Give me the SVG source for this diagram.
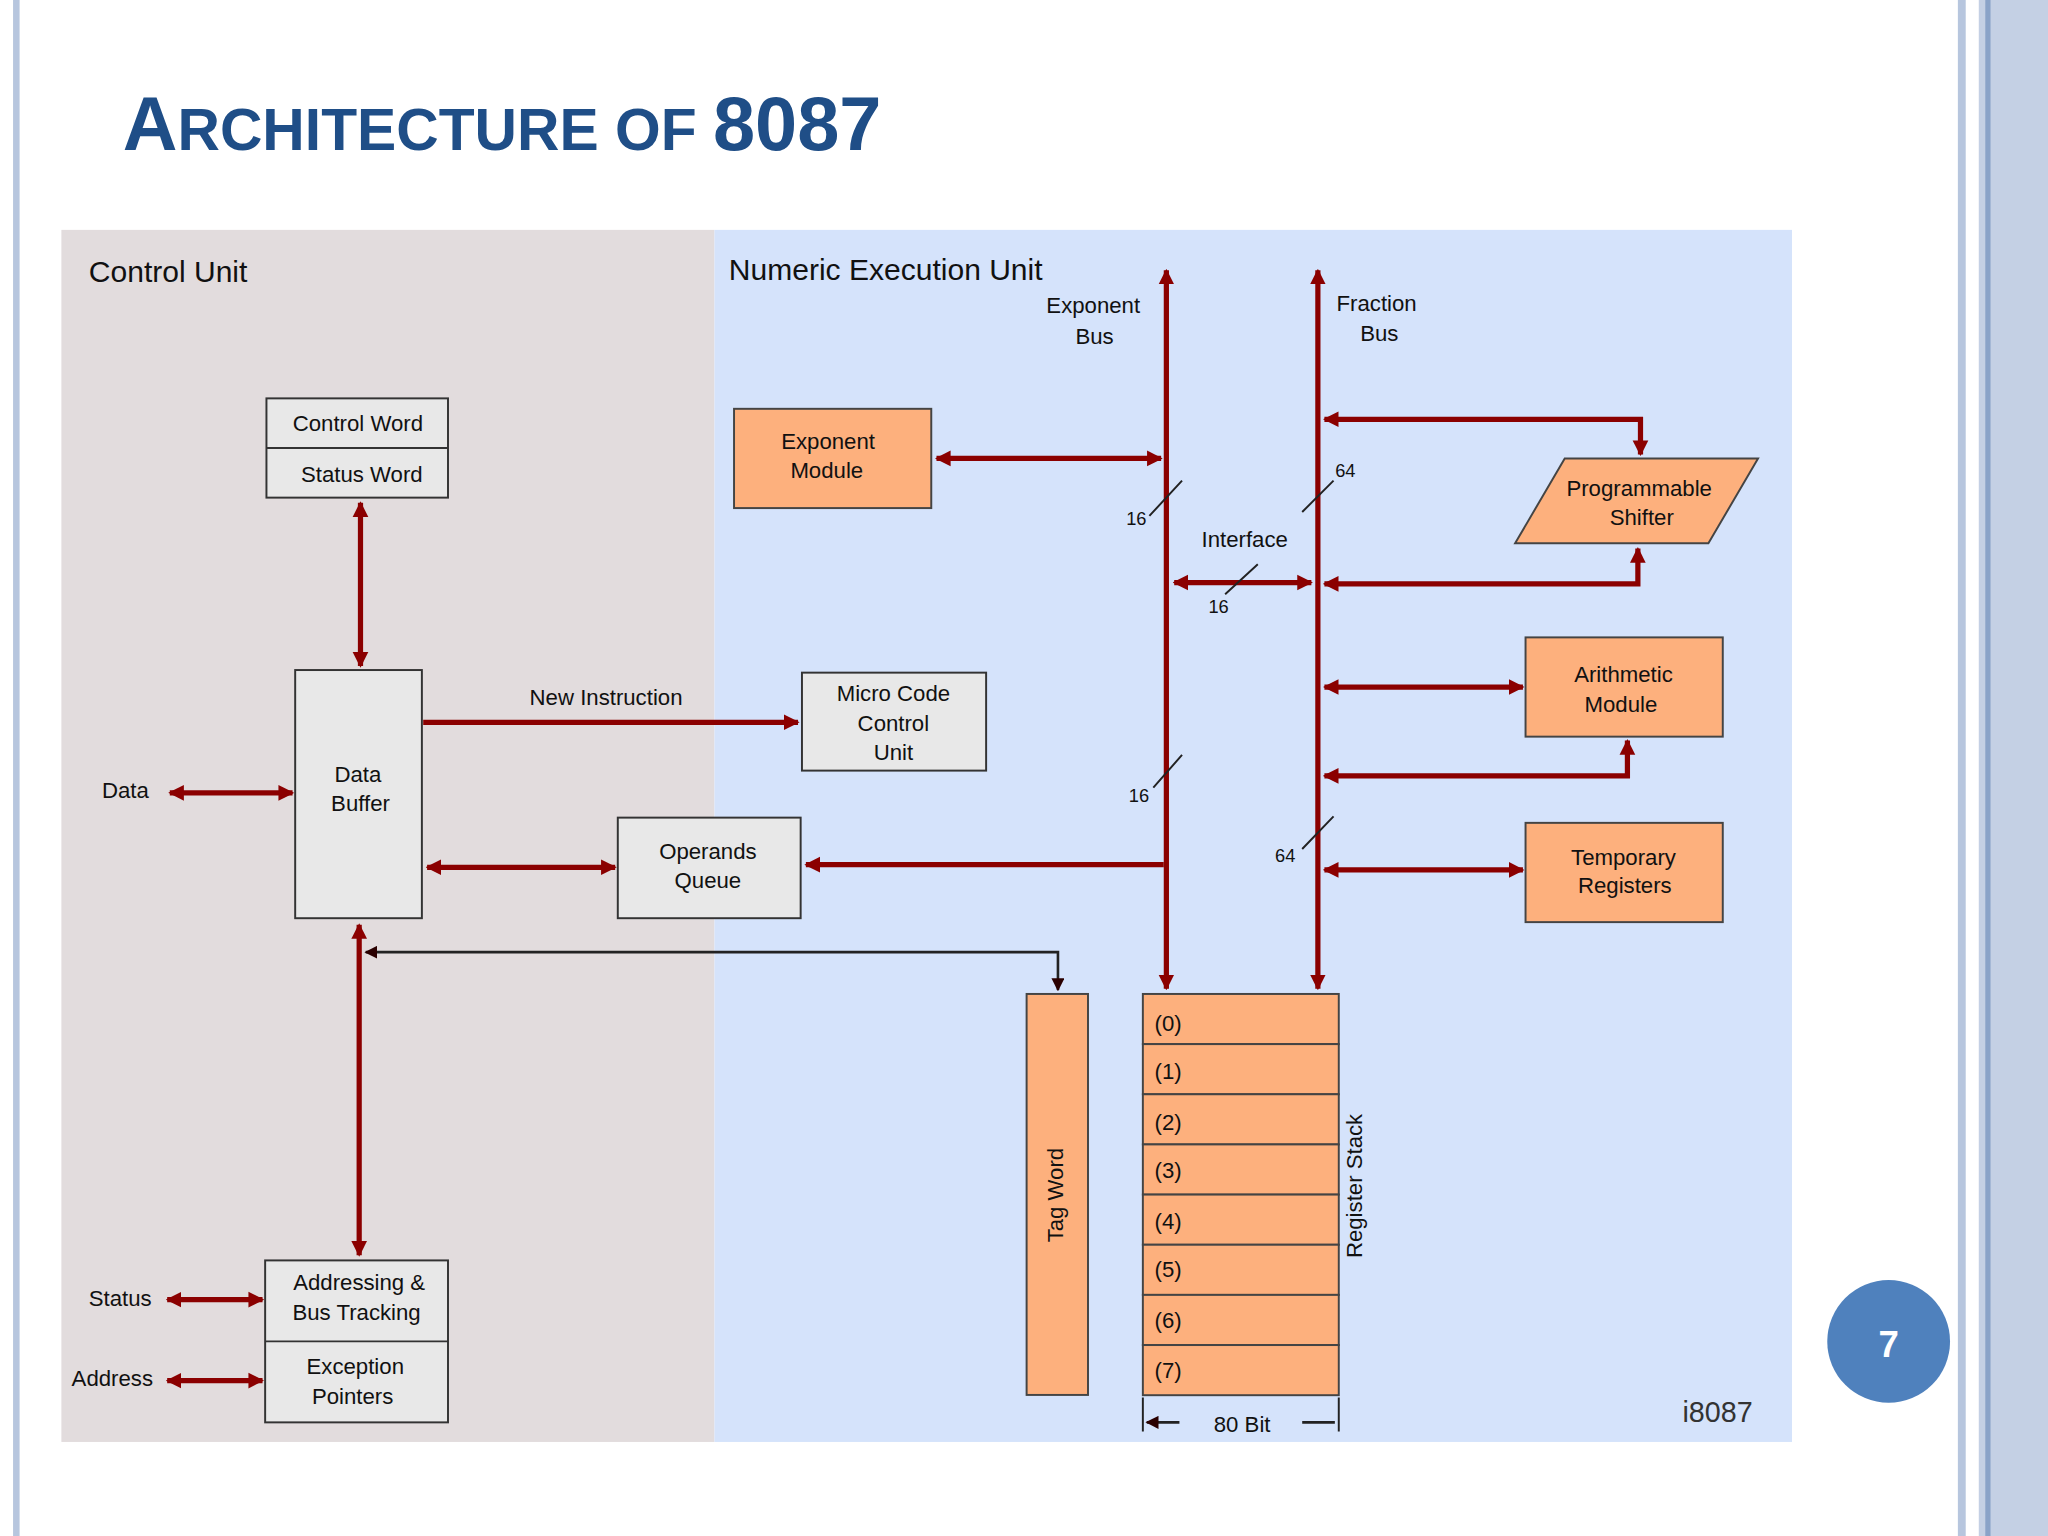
<svg xmlns="http://www.w3.org/2000/svg" width="2048" height="1536" viewBox="0 0 2048 1536">
<defs>
<style>
text{font-family:"Liberation Sans",Arial,sans-serif;fill:#111}
.l{font-size:17px}
.box{fill:#e8e8e8;stroke:#333;stroke-width:1.5}
.or{fill:#fdb07d;stroke:#444;stroke-width:1.5}
.w{fill:none;stroke:#8b0000;stroke-width:4}
.t{fill:none;stroke:#222;stroke-width:1.5}
</style>
<marker id="a" viewBox="0 0 10 10" refX="9" refY="5" markerWidth="3" markerHeight="3.2" orient="auto-start-reverse"><path d="M0,0L10,5L0,10z" fill="#8b0000"/></marker>
<marker id="b" viewBox="0 0 10 10" refX="9" refY="5" markerWidth="5" markerHeight="5" orient="auto-start-reverse"><path d="M0,0L10,5L0,10z" fill="#2a0000"/></marker>
</defs>
<rect width="2048" height="1536" fill="#fff"/>
<g transform="scale(1.30612)">
<rect x="10" y="0" width="5" height="1176" fill="#b7c6de"/>
<rect x="1499" y="0" width="6" height="1176" fill="#b7c6de"/>
<rect x="1515" y="0" width="53" height="1176" fill="#c4d0e4"/>
<rect x="1520" y="0" width="4" height="1176" fill="#8aa3c8"/>
<text x="94" y="115" style="font-size:58px;font-weight:bold;fill:#1f4e87">A<tspan style="font-size:45px">RCHITECTURE OF </tspan>8087</text>
<rect x="47" y="176" width="500" height="928" fill="#e2dcdd"/>
<rect x="547" y="176" width="825" height="928" fill="#d5e3fb"/>
<text x="68" y="216" style="font-size:23px">Control Unit</text>
<text x="558" y="214" style="font-size:23px">Numeric Execution Unit</text>

<g id="connectors">
<path class="w" d="M893,757V207" marker-start="url(#a)" marker-end="url(#a)"/>
<path class="w" d="M1009,757V207" marker-start="url(#a)" marker-end="url(#a)"/>
<path class="w" d="M717,351H889" marker-start="url(#a)" marker-end="url(#a)"/>
<path class="w" d="M1014,321H1256V348" marker-start="url(#a)" marker-end="url(#a)"/>
<path class="w" d="M1014,447H1254V420" marker-start="url(#a)" marker-end="url(#a)"/>
<path class="w" d="M899,446H1004" marker-start="url(#a)" marker-end="url(#a)"/>
<path class="w" d="M1014,526H1166" marker-start="url(#a)" marker-end="url(#a)"/>
<path class="w" d="M1014,594H1246V567" marker-start="url(#a)" marker-end="url(#a)"/>
<path class="w" d="M1014,666H1166" marker-start="url(#a)" marker-end="url(#a)"/>
<path class="w" d="M891,662H617" marker-end="url(#a)"/>
<path class="w" d="M324,553H611" marker-end="url(#a)"/>
<path class="w" d="M130,607H224" marker-start="url(#a)" marker-end="url(#a)"/>
<path class="w" d="M327,664H471" marker-start="url(#a)" marker-end="url(#a)"/>
<path class="w" d="M276,385V510" marker-start="url(#a)" marker-end="url(#a)"/>
<path class="w" d="M275,708V961" marker-start="url(#a)" marker-end="url(#a)"/>
<path class="w" d="M128,995H201" marker-start="url(#a)" marker-end="url(#a)"/>
<path class="w" d="M128,1057H201" marker-start="url(#a)" marker-end="url(#a)"/>
<path class="t" d="M280,729H810V758" marker-start="url(#b)" marker-end="url(#b)" style="stroke-width:2"/>
<path class="t" d="M880,395L905,368M883,603L905,578M997,392L1021,368M997,650L1021,625M938,455L963,432"/>
<path class="t" d="M875,1070V1096M1025,1070V1096"/>
<path class="t" d="M878,1089H903M997,1089H1022" marker-start="url(#b)" style="stroke-width:2"/>
</g>

<g id="control-status"><rect class="box" x="204" y="305" width="139" height="76"/><line x1="204" y1="343" x2="343" y2="343" stroke="#333" stroke-width="1.5"/>
<text class="l" x="274" y="330" text-anchor="middle">Control Word</text><text class="l" x="277" y="369" text-anchor="middle">Status Word</text></g>
<g id="data-buffer"><rect class="box" x="226" y="513" width="97" height="190"/><text class="l" x="274" y="599" text-anchor="middle">Data</text><text class="l" x="276" y="621" text-anchor="middle">Buffer</text></g>
<g id="micro-code"><rect class="box" x="614" y="515" width="141" height="75"/><text class="l" x="684" y="537" text-anchor="middle">Micro Code</text><text class="l" x="684" y="560" text-anchor="middle">Control</text><text class="l" x="684" y="582" text-anchor="middle">Unit</text></g>
<g id="operands"><rect class="box" x="473" y="626" width="140" height="77"/><text class="l" x="542" y="658" text-anchor="middle">Operands</text><text class="l" x="542" y="680" text-anchor="middle">Queue</text></g>
<g id="addressing"><rect class="box" x="203" y="965" width="140" height="124"/><line x1="203" y1="1027" x2="343" y2="1027" stroke="#333" stroke-width="1.5"/>
<text class="l" x="275" y="988" text-anchor="middle">Addressing &amp;</text><text class="l" x="273" y="1011" text-anchor="middle">Bus Tracking</text>
<text class="l" x="272" y="1052" text-anchor="middle">Exception</text><text class="l" x="270" y="1075" text-anchor="middle">Pointers</text></g>
<g id="exponent-module"><rect class="or" x="562" y="313" width="151" height="76"/><text class="l" x="634" y="344" text-anchor="middle">Exponent</text><text class="l" x="633" y="366" text-anchor="middle">Module</text></g>
<g id="shifter"><path class="or" d="M1198,351H1346L1308,416H1160z"/><text class="l" x="1255" y="380" text-anchor="middle">Programmable</text><text class="l" x="1257" y="402" text-anchor="middle">Shifter</text></g>
<g id="arithmetic"><rect class="or" x="1168" y="488" width="151" height="76"/><text class="l" x="1243" y="522" text-anchor="middle">Arithmetic</text><text class="l" x="1241" y="545" text-anchor="middle">Module</text></g>
<g id="temporary"><rect class="or" x="1168" y="630" width="151" height="76"/><text class="l" x="1243" y="662" text-anchor="middle">Temporary</text><text class="l" x="1244" y="684" text-anchor="middle">Registers</text></g>
<g id="tag-word"><rect class="or" x="786" y="761" width="47" height="307"/><text class="l" transform="translate(814,915) rotate(-90)" text-anchor="middle">Tag Word</text></g>
<g id="register-stack">
<rect class="or" x="875" y="761" width="150" height="38.4"/><rect class="or" x="875" y="799.4" width="150" height="38.4"/><rect class="or" x="875" y="837.8" width="150" height="38.4"/><rect class="or" x="875" y="876.2" width="150" height="38.4"/><rect class="or" x="875" y="914.6" width="150" height="38.4"/><rect class="or" x="875" y="953" width="150" height="38.4"/><rect class="or" x="875" y="991.4" width="150" height="38.4"/><rect class="or" x="875" y="1029.8" width="150" height="38.4"/>
<text class="l" x="884" y="789">(0)</text><text class="l" x="884" y="826">(1)</text><text class="l" x="884" y="865">(2)</text><text class="l" x="884" y="902">(3)</text><text class="l" x="884" y="941">(4)</text><text class="l" x="884" y="978">(5)</text><text class="l" x="884" y="1017">(6)</text><text class="l" x="884" y="1055">(7)</text>
<text class="l" transform="translate(1043,908) rotate(-90)" text-anchor="middle">Register Stack</text></g>

<g id="labels">
<text class="l" x="837" y="240" text-anchor="middle">Exponent</text><text class="l" x="838" y="263" text-anchor="middle">Bus</text>
<text class="l" x="1054" y="238" text-anchor="middle">Fraction</text><text class="l" x="1056" y="261" text-anchor="middle">Bus</text>
<text class="l" x="953" y="419" text-anchor="middle">Interface</text>
<text class="l" x="464" y="540" text-anchor="middle">New Instruction</text>
<text class="l" x="96" y="611" text-anchor="middle">Data</text>
<text class="l" x="92" y="1000" text-anchor="middle">Status</text>
<text class="l" x="86" y="1061" text-anchor="middle">Address</text>
<text class="l" x="951" y="1096" text-anchor="middle">80 Bit</text>
<text x="1315" y="1089" text-anchor="middle" style="font-size:22px;fill:#333">i8087</text>
<text x="870" y="402" text-anchor="middle" style="font-size:14px">16</text>
<text x="872" y="614" text-anchor="middle" style="font-size:14px">16</text>
<text x="1030" y="365" text-anchor="middle" style="font-size:14px">64</text>
<text x="984" y="660" text-anchor="middle" style="font-size:14px">64</text>
<text x="933" y="469" text-anchor="middle" style="font-size:14px">16</text>
</g>
<circle cx="1446" cy="1027" r="47" fill="#4f81bd"/>
<text x="1446" y="1039" text-anchor="middle" style="font-size:28px;font-weight:bold;fill:#fff">7</text>
</g>
</svg>
